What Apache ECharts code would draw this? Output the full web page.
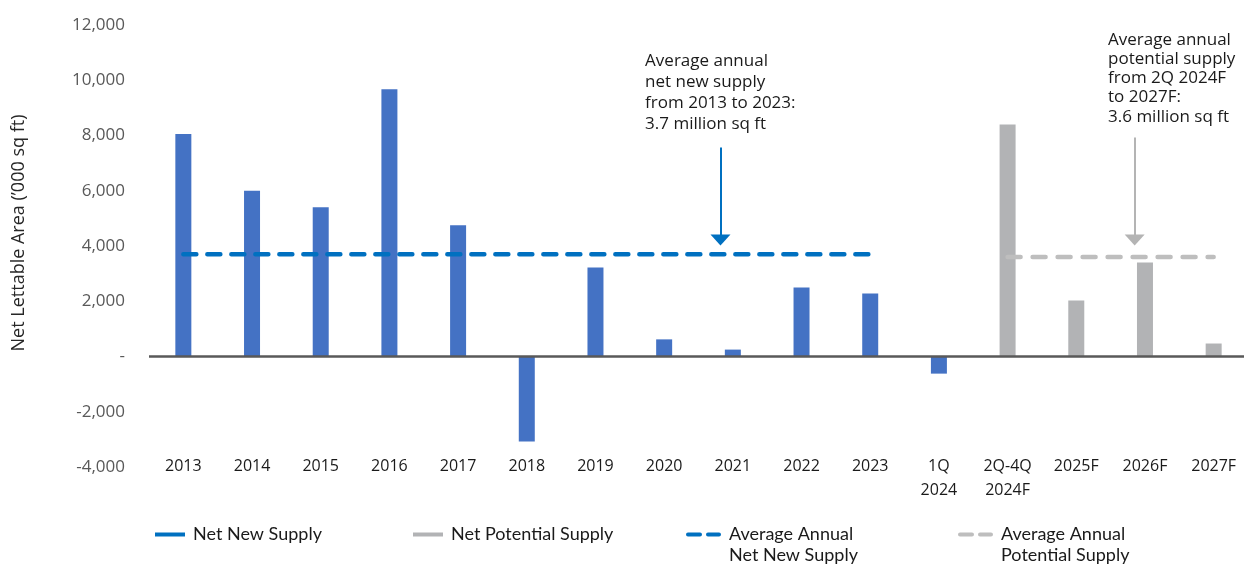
<!DOCTYPE html>
<html>
<head>
<meta charset="utf-8">
<script src="https://cdn.jsdelivr.net/npm/echarts@6/dist/echarts.min.js"></script>
<style>
  html, body { margin: 0; padding: 0; background: #ffffff; }
  #chart { width: 1244px; height: 566px; }
</style>
</head>
<body>
<div id="chart"></div>
<script>
// Categories along the x axis
const categories = ['2013', '2014', '2015', '2016', '2017', '2018', '2019', '2020', '2021', '2022', '2023',
  '1Q\n2024', '2Q-4Q\n2024F', '2025F', '2026F', '2027F'];

// Net lettable area, '000 sq ft
const netNewSupply = [8050, 6000, 5400, 9670, 4750, -3080, 3220, 620, 250, 2500, 2280, -620, null, null, null, null];
const netPotentialSupply = [null, null, null, null, null, null, null, null, null, null, null, null, 8400, 2030, 3400, 470];

// Average lines (3.7 and 3.6 million sq ft)
const avgNetNewSupply = [3700, 3700, 3700, 3700, 3700, 3700, 3700, 3700, 3700, 3700, 3700, null, null, null, null, null];
const avgPotentialSupply = [null, null, null, null, null, null, null, null, null, null, null, null, 3600, 3600, 3600, 3600];

// Value axis ticks
const yMin = -4000, yMax = 12000, yStep = 2000;

// Callout notes: [x position in category units, value]
const noteNetNewText = 'Average annual\nnet new supply\nfrom 2013 to 2023:\n3.7 million sq ft';
const noteNetNewAnchor = [6.73, 11070];
const noteNetNewArrow = [[7.82, 7570], [7.82, 4220]];
const notePotentialText = 'Average annual\npotential supply\nfrom 2Q 2024F\nto 2027F:\n3.6 million sq ft';
const notePotentialAnchor = [13.47, 11800];
const notePotentialArrow = [[13.85, 7930], [13.85, 4220]];

const BLUE_BAR = '#4472C4';
const BLUE_AVG = '#0070C0';
const GREY_BAR = '#B2B3B5';
const GREY_AVG = '#BEBEBE';
const GREY_ARROW = '#B4B4B4';
const FONT = 'Open Sans';
const LEGEND_FONT = 'Lato';

// Two rounded dashes on the top edge; the bare point at y=25 keeps the icon box tall
// so the dashes line up with the first line of a two-line legend label.
const dashIcon = 'path://M2,0H14A2,2 0 0 1 14,4H2A2,2 0 0 1 2,0Z M22,0H33A2,2 0 0 1 33,4H22A2,2 0 0 1 22,0Z M0,25L0,25';

function legendBlock(name, left, top, icon, color, w, h) {
  return {
    data: [{
      name: name, icon: icon,
      itemStyle: { color: color, borderWidth: 0, borderColor: 'transparent' },
      lineStyle: { width: 0 }
    }],
    left: left, top: top, padding: 0,
    itemWidth: w, itemHeight: h,
    selectedMode: false,
    textStyle: { fontFamily: LEGEND_FONT, fontSize: 18, color: '#1a1a1a', lineHeight: 21, padding: [0, 0, 0, 3] }
  };
}

const chart = echarts.init(document.getElementById('chart'), null, { renderer: 'canvas' });

chart.setOption({
  animation: false,
  backgroundColor: '#ffffff',
  grid: { left: 149, top: 25, width: 1099, bottom: 99, containLabel: false, outerBoundsMode: 'none' },
  xAxis: [
    {
      type: 'category',
      data: categories,
      axisLine: { show: false },
      axisTick: { show: false },
      axisLabel: {
        interval: 0, margin: -13, verticalAlign: 'top', lineHeight: 24,
        fontFamily: FONT, fontSize: 16, color: '#1a1a1a'
      },
      splitLine: { show: false }
    },
    {
      type: 'value', min: -0.5, max: 15.5, show: false
    }
  ],
  yAxis: {
    type: 'value',
    min: yMin, max: yMax, interval: yStep,
    name: 'Net Lettable Area (\u2019000 sq ft)',
    nameLocation: 'middle',
    nameRotate: 90,
    nameGap: 121,
    nameTextStyle: { fontFamily: FONT, fontSize: 18, color: '#262626', padding: [0, 0, 0, 26] },
    axisLine: { show: false },
    axisTick: { show: false },
    splitLine: { show: false },
    axisLabel: {
      margin: 24, fontFamily: FONT, fontSize: 17, color: '#595959',
      formatter: function (v) { return v === 0 ? '-' : v.toLocaleString('en-US'); }
    }
  },
  legend: [
    legendBlock('Net New Supply', 155, 524, 'rect', BLUE_AVG, 30, 4),
    legendBlock('Net Potential Supply', 413, 524, 'rect', GREY_BAR, 30, 4),
    legendBlock('Average Annual\nNet New Supply', 686, 524, dashIcon, BLUE_AVG, 35, 25),
    legendBlock('Average Annual\nPotential Supply', 958, 524, dashIcon, GREY_AVG, 35, 25)
  ],
  series: [
    {
      name: 'Net New Supply',
      type: 'bar',
      data: netNewSupply,
      barWidth: 16,
      barGap: '-100%',
      itemStyle: { color: BLUE_BAR },
      markLine: {
        silent: true, symbol: 'none', label: { show: false },
        lineStyle: { color: '#595959', width: 2.5, type: 'solid' },
        data: [{ yAxis: 0 }]
      }
    },
    {
      name: 'Net Potential Supply',
      type: 'bar',
      data: netPotentialSupply,
      barWidth: 16,
      barGap: '-100%',
      itemStyle: { color: GREY_BAR }
    },
    {
      name: 'Average Annual\nNet New Supply',
      type: 'line',
      data: avgNetNewSupply,
      showSymbol: false,
      symbol: 'none',
      z: 4,
      itemStyle: { color: BLUE_AVG },
      lineStyle: { color: BLUE_AVG, width: 4.5, type: [13, 11], cap: 'round' }
    },
    {
      name: 'Average Annual\nPotential Supply',
      type: 'line',
      data: avgPotentialSupply,
      showSymbol: false,
      symbol: 'none',
      z: 4,
      itemStyle: { color: GREY_AVG },
      lineStyle: { color: GREY_AVG, width: 4.5, type: [13, 12], cap: 'round' }
    },
    {
      // callout arrows and notes
      name: 'notes',
      type: 'scatter',
      xAxisIndex: 1,
      yAxisIndex: 0,
      data: [],
      silent: true,
      markLine: {
        silent: true,
        symbol: ['none', 'triangle'],
        symbolSize: [20, 11],
        label: { show: false },
        data: [
          [{ coord: noteNetNewArrow[0], lineStyle: { color: BLUE_AVG, width: 2, type: 'solid' } },
           { coord: noteNetNewArrow[1] }],
          [{ coord: notePotentialArrow[0], lineStyle: { color: GREY_ARROW, width: 2, type: 'solid' } },
           { coord: notePotentialArrow[1] }]
        ]
      },
      markPoint: {
        silent: true,
        symbol: 'rect',
        symbolSize: 1,
        itemStyle: { color: 'rgba(0,0,0,0)' },
        label: {
          show: true, position: [0, 0], align: 'left', verticalAlign: 'top',
          fontFamily: FONT, fontSize: 17, color: '#1a1a1a'
        },
        data: [
          { coord: noteNetNewAnchor, label: { formatter: noteNetNewText, lineHeight: 21 } },
          { coord: notePotentialAnchor, label: { formatter: notePotentialText, lineHeight: 19.3 } }
        ]
      }
    }
  ]
});
</script>
</body>
</html>
